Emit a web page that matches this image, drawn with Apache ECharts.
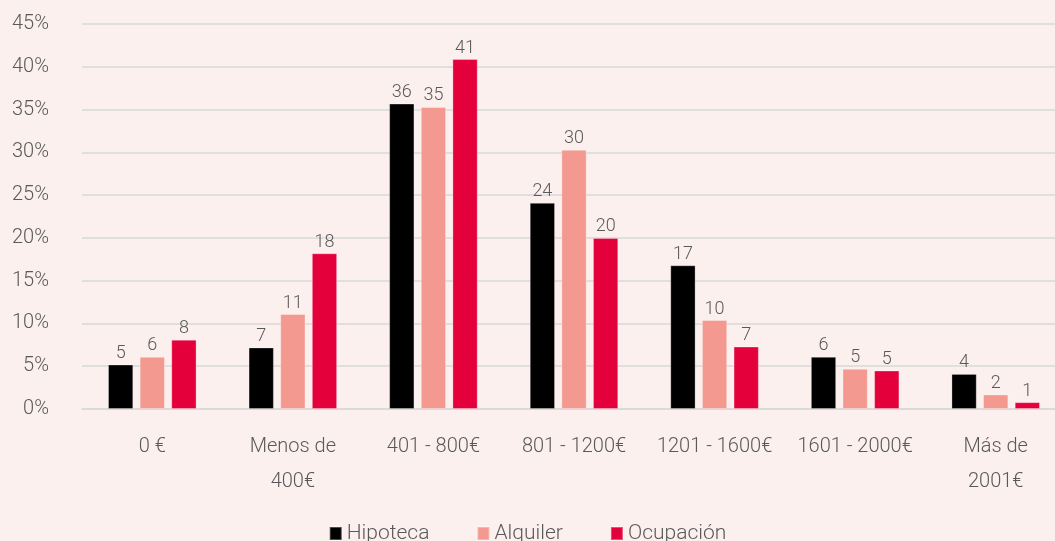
<!DOCTYPE html>
<html>
<head>
<meta charset="utf-8">
<script src="https://cdn.jsdelivr.net/npm/echarts@6/dist/echarts.min.js"></script>
<style>
html,body{margin:0;padding:0;background:#fcf0ef;}
#c{width:1055px;height:541px;}
</style>
</head>
<body>
<div id="c"></div>
<script>
var categories = ['0 €', 'Menos de\n400€', '401 - 800€', '801 - 1200€', '1201 - 1600€', '1601 - 2000€', 'Más de\n2001€'];
var hipoteca = [5.2, 7.2, 35.7, 24.1, 16.8, 6.1, 4.1];
var alquiler = [6.1, 11.1, 35.3, 30.3, 10.4, 4.7, 1.7];
var ocupacion = [8.1, 18.2, 40.9, 20.0, 7.3, 4.5, 0.8];
var yTicks = [0, 5, 10, 15, 20, 25, 30, 35, 40, 45];

var txt = '#595959';
var font = 'Roboto';
var chart = echarts.init(document.getElementById('c'));
function s(name, data, color) {
  return {
    name: name, type: 'bar', data: data,
    barGap: '25%', barCategoryGap: '37%',
    itemStyle: {color: color, borderColor: 'rgba(255,255,255,0.3)', borderWidth: 1},
    label: {show: true, position: 'top', distance: 2, color: txt, fontFamily: font, fontWeight: 300, fontSize: 18,
      formatter: function(p){ return Math.round(p.value); }}
  };
}
chart.setOption({
  backgroundColor: '#fcf0ef',
  animation: false,
  grid: {left: 82, right: -11, top: 24, bottom: 132, containLabel: false, outerBoundsMode: 'none'},
  legend: {
    top: 518, left: 'center', itemWidth: 12, itemHeight: 13, itemGap: 47, icon: 'rect',
    textStyle: {color: txt, fontFamily: font, fontWeight: 300, fontSize: 21},
    data: ['Hipoteca', 'Alquiler', 'Ocupación']
  },
  xAxis: {
    type: 'category', data: categories,
    axisLine: {lineStyle: {color: '#d9d9d9', width: 1.5}},
    axisTick: {show: false},
    axisLabel: {color: txt, fontFamily: font, fontWeight: 300, fontSize: 20, lineHeight: 35, margin: 20, interval: 0}
  },
  yAxis: {
    type: 'value', min: yTicks[0], max: yTicks[yTicks.length-1], interval: 5,
    axisLine: {show: false}, axisTick: {show: false},
    splitLine: {lineStyle: {color: '#d9d9d9', width: 1.5}},
    axisLabel: {color: txt, fontFamily: font, fontWeight: 300, fontSize: 20, margin: 33, formatter: '{value}%'}
  },
  series: [
    s('Hipoteca', hipoteca, '#000000'),
    s('Alquiler', alquiler, '#f4998f'),
    s('Ocupación', ocupacion, '#e4003b')
  ]
});
</script>
</body>
</html>
